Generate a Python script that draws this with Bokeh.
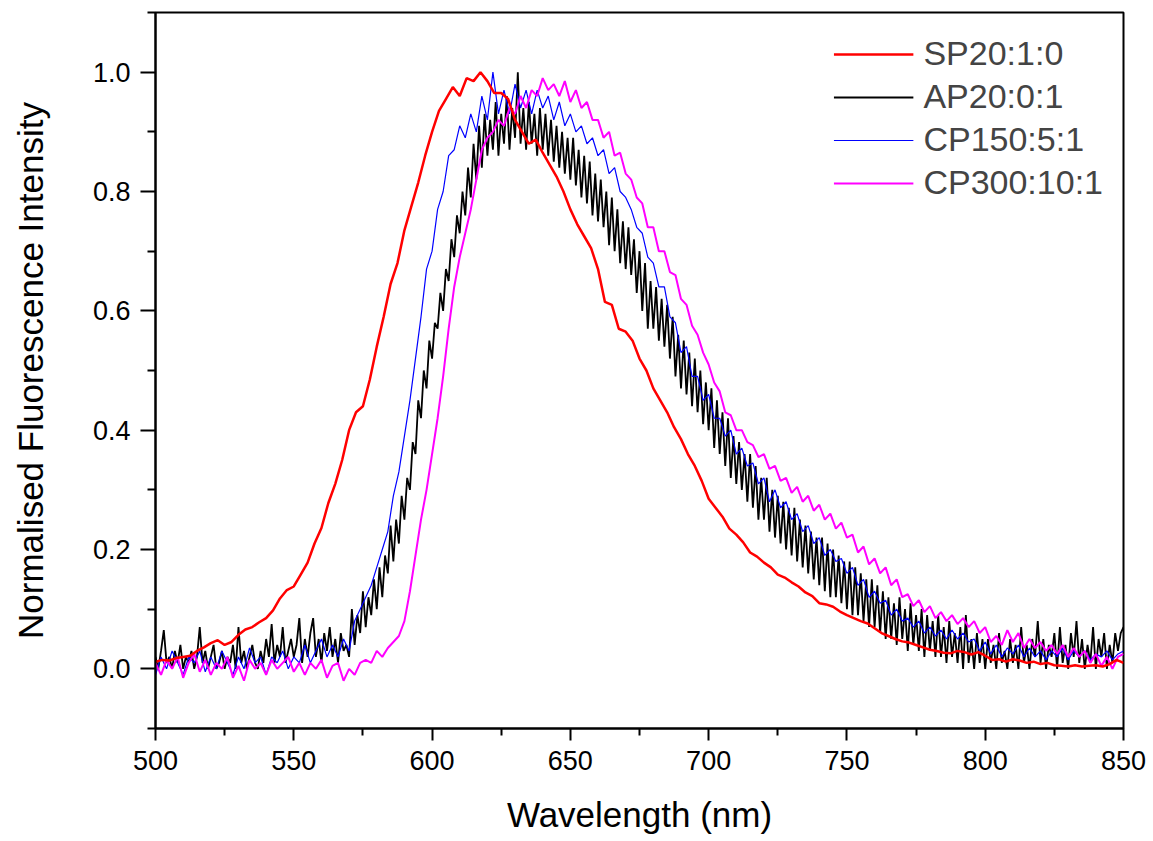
from bokeh.plotting import figure
from bokeh.models import Range1d, FixedTicker, PrintfTickFormatter, Legend, LegendItem
from bokeh.embed import file_html
from bokeh.resources import INLINE

# ---------------- data ----------------
wl_red = [500 + 2.5 * i for i in range(141)]
sp20_1_0 = [
    0.012, 0.015, 0.014, 0.018, 0.02, 0.022, 0.03, 0.036, 0.043, 0.048,
    0.04, 0.045, 0.057, 0.066, 0.07, 0.078, 0.085, 0.098, 0.118, 0.132,
    0.138, 0.158, 0.178, 0.21, 0.236, 0.278, 0.31, 0.35, 0.40, 0.43,
    0.44, 0.485, 0.54, 0.59, 0.645, 0.68, 0.735, 0.775, 0.815, 0.86,
    0.9, 0.935, 0.955, 0.975, 0.96, 0.99, 0.985, 1.0, 0.985, 0.965,
    0.965, 0.955, 0.92, 0.9, 0.88, 0.887, 0.865, 0.845, 0.825, 0.8,
    0.77, 0.745, 0.725, 0.705, 0.67, 0.615, 0.61, 0.57, 0.565, 0.55,
    0.52, 0.5, 0.47, 0.45, 0.43, 0.405, 0.385, 0.36, 0.34, 0.315,
    0.285, 0.27, 0.255, 0.235, 0.225, 0.212, 0.195, 0.188, 0.178, 0.17,
    0.158, 0.153, 0.145, 0.138, 0.128, 0.122, 0.11, 0.108, 0.104, 0.096,
    0.09, 0.085, 0.08, 0.076, 0.068, 0.06, 0.055, 0.05, 0.046, 0.044,
    0.04, 0.036, 0.032, 0.03, 0.027, 0.026, 0.03, 0.028, 0.024, 0.028,
    0.022, 0.015, 0.016, 0.012, 0.016, 0.014, 0.01, 0.012, 0.008, 0.01,
    0.006, 0.005, 0.004, 0.006, 0.004, 0.005, 0.006, 0.004, 0.008, 0.015,
    0.01,
]

wl_black = list(range(500, 851))
ap20_0_1 = [
    0.02, 0.00, 0.03, 0.065, 0.01, 0.02, 0.00, 0.03, 0.01, 0.04,
    0.00, 0.02, 0.01, 0.03, 0.00, 0.02, 0.07, 0.01, 0.03, 0.00,
    0.02, 0.04, 0.00, 0.01, 0.03, 0.00, 0.02, 0.01, 0.04, 0.00,
    0.07, 0.01, 0.03, 0.00, 0.02, 0.04, 0.01, 0.00, 0.03, 0.01,
    0.05, 0.02, 0.075, 0.01, 0.04, 0.02, 0.07, 0.01, 0.03, 0.05,
    0.02, 0.04, 0.085, 0.01, 0.05, 0.02, 0.06, 0.085, 0.02, 0.05,
    0.01, 0.06, 0.03, 0.07, 0.02, 0.05, 0.01, 0.06, 0.03, 0.04,
    0.02, 0.10, 0.04, 0.09, 0.06, 0.13, 0.07, 0.12, 0.09, 0.15,
    0.10, 0.17, 0.12, 0.19, 0.16, 0.24, 0.18, 0.25, 0.21, 0.29,
    0.25, 0.32, 0.30, 0.38, 0.36, 0.45, 0.42, 0.50, 0.47, 0.55,
    0.52, 0.58, 0.57, 0.63, 0.60, 0.67, 0.65, 0.72, 0.69, 0.76,
    0.73, 0.80, 0.76, 0.84, 0.79, 0.88, 0.82, 0.91, 0.84, 0.93,
    0.86, 0.92, 0.87, 0.95, 0.86, 0.93, 0.88, 0.96, 0.87, 0.94,
    0.89, 1.0, 0.88, 0.94, 0.87, 0.95, 0.88, 0.93, 0.86, 0.94,
    0.87, 0.93, 0.86, 0.92, 0.85, 0.91, 0.84, 0.90, 0.83, 0.89,
    0.82, 0.89, 0.81, 0.87, 0.79, 0.86, 0.78, 0.85, 0.76, 0.83,
    0.75, 0.82, 0.74, 0.80, 0.71, 0.79, 0.70, 0.77, 0.68, 0.75,
    0.67, 0.74, 0.66, 0.72, 0.63, 0.70, 0.60, 0.68, 0.57, 0.65,
    0.57, 0.64, 0.55, 0.62, 0.54, 0.61, 0.52, 0.59, 0.49, 0.56,
    0.47, 0.55, 0.46, 0.53, 0.44, 0.52, 0.43, 0.50, 0.41, 0.48,
    0.40, 0.47, 0.37, 0.45, 0.36, 0.43, 0.34, 0.42, 0.32, 0.39,
    0.31, 0.38, 0.30, 0.36, 0.28, 0.36, 0.27, 0.34, 0.25, 0.32,
    0.25, 0.32, 0.23, 0.30, 0.22, 0.29, 0.21, 0.28, 0.20, 0.27,
    0.19, 0.27, 0.18, 0.25, 0.17, 0.24, 0.16, 0.23, 0.15, 0.22,
    0.14, 0.22, 0.13, 0.21, 0.12, 0.20, 0.12, 0.19, 0.11, 0.18,
    0.10, 0.18, 0.09, 0.17, 0.09, 0.16, 0.08, 0.15, 0.07, 0.15,
    0.07, 0.14, 0.06, 0.13, 0.05, 0.12, 0.05, 0.11, 0.04, 0.12,
    0.05, 0.10, 0.03, 0.11, 0.04, 0.09, 0.03, 0.10, 0.02, 0.09,
    0.03, 0.08, 0.02, 0.09, 0.02, 0.07, 0.01, 0.08, 0.02, 0.06,
    0.01, 0.07, 0.00, 0.09, 0.01, 0.05, 0.00, 0.06, 0.01, 0.05,
    0.00, 0.05, 0.01, 0.04, 0.00, 0.06, 0.01, 0.03, 0.00, 0.05,
    0.01, 0.04, 0.00, 0.07, 0.01, 0.04, 0.00, 0.05, 0.02, 0.08,
    0.01, 0.05, 0.00, 0.04, 0.02, 0.06, 0.00, 0.07, 0.01, 0.04,
    0.00, 0.06, 0.02, 0.08, 0.01, 0.05, 0.00, 0.04, 0.01, 0.07,
    0.00, 0.05, 0.02, 0.06, 0.00, 0.04, 0.01, 0.06, 0.03, 0.06,
    0.07,
]

wl = list(range(500, 852, 2))
cp150_5_1 = [
    -0.01, 0.02, 0.00, 0.03, 0.01, -0.01, 0.02, 0.01, 0.03, -0.005,
    0.02, 0.00, 0.03, 0.01, -0.01, 0.02, 0.00, 0.035, 0.01, 0.02,
    -0.01, 0.02, 0.01, 0.03, 0.00, 0.02, 0.01, 0.04, 0.01, 0.03,
    0.05, 0.02, 0.04, 0.02, 0.05, 0.03, 0.08, 0.10, 0.12, 0.14,
    0.17, 0.20, 0.23, 0.29, 0.33, 0.39, 0.45, 0.52, 0.59, 0.67,
    0.70, 0.77, 0.80, 0.86, 0.87, 0.91, 0.89, 0.93, 0.90, 0.96,
    0.92, 1.0, 0.93, 0.97, 0.93, 0.98, 0.94, 0.97, 0.93, 0.97,
    0.94, 0.96, 0.92, 0.95, 0.91, 0.93, 0.90, 0.91, 0.88, 0.89,
    0.86, 0.87, 0.83, 0.84, 0.80, 0.79, 0.77, 0.74, 0.73, 0.69,
    0.68, 0.64, 0.64, 0.59, 0.58, 0.53, 0.54, 0.49, 0.49, 0.45,
    0.46, 0.42, 0.42, 0.39, 0.40, 0.36, 0.37, 0.34, 0.345, 0.31,
    0.32, 0.28, 0.30, 0.27, 0.28, 0.25, 0.26, 0.23, 0.24, 0.21,
    0.22, 0.19, 0.20, 0.18, 0.185, 0.16, 0.17, 0.14, 0.15, 0.12,
    0.13, 0.11, 0.115, 0.09, 0.10, 0.08, 0.085, 0.07, 0.08, 0.06,
    0.07, 0.055, 0.065, 0.05, 0.065, 0.05, 0.06, 0.045, 0.05, 0.03,
    0.045, 0.025, 0.04, 0.02, 0.035, 0.025, 0.04, 0.02, 0.035, 0.02,
    0.03, 0.015, 0.03, 0.02, 0.035, 0.015, 0.03, 0.02, 0.03, 0.015,
    0.025, 0.02, 0.03, 0.015, 0.025, 0.03,
]
cp300_10_1 = [
    0.01, -0.01, 0.015, 0.00, 0.02, -0.015, 0.01, 0.025, -0.005, 0.015,
    -0.01, 0.01, 0.00, 0.02, -0.015, 0.005, -0.02, 0.015, 0.00, 0.01,
    -0.01, 0.015, 0.00, 0.01, 0.02, -0.005, 0.01, -0.01, 0.01, 0.00,
    0.015, -0.015, 0.005, 0.01, -0.02, 0.00, -0.01, 0.01, 0.015, 0.01,
    0.03, 0.02, 0.035, 0.045, 0.055, 0.08, 0.13, 0.19, 0.25, 0.30,
    0.36, 0.42, 0.49, 0.57, 0.64, 0.69, 0.73, 0.77, 0.82, 0.87,
    0.89, 0.90, 0.92, 0.91, 0.94, 0.93, 0.96, 0.94, 0.97, 0.96,
    0.99, 0.97, 0.98, 0.96, 0.985, 0.95, 0.97, 0.94, 0.95, 0.92,
    0.92, 0.89, 0.90, 0.86, 0.865, 0.83, 0.82, 0.79, 0.78, 0.74,
    0.74, 0.70, 0.70, 0.665, 0.66, 0.62, 0.61, 0.575, 0.56, 0.53,
    0.51, 0.48, 0.465, 0.43, 0.425, 0.40, 0.40, 0.38, 0.375, 0.355,
    0.36, 0.335, 0.34, 0.315, 0.32, 0.295, 0.305, 0.28, 0.29, 0.265,
    0.275, 0.25, 0.26, 0.235, 0.245, 0.22, 0.225, 0.195, 0.205, 0.175,
    0.185, 0.16, 0.17, 0.14, 0.15, 0.12, 0.125, 0.105, 0.115, 0.095,
    0.105, 0.085, 0.095, 0.08, 0.09, 0.075, 0.085, 0.07, 0.08, 0.06,
    0.07, 0.045, 0.055, 0.04, 0.065, 0.045, 0.06, 0.035, 0.05, 0.035,
    0.045, 0.03, 0.04, 0.025, 0.04, 0.02, 0.035, 0.02, 0.03, 0.01,
    0.025, 0.005, 0.02, 0.00, 0.02, 0.025,
]

series_names = ["SP20:1:0", "AP20:0:1", "CP150:5:1", "CP300:10:1"]
x_ticks = [500, 550, 600, 650, 700, 750, 800, 850]
x_minor = [525, 575, 625, 675, 725, 775, 825]
y_ticks = [0.0, 0.2, 0.4, 0.6, 0.8, 1.0]
y_minor = [-0.1, 0.1, 0.3, 0.5, 0.7, 0.9, 1.1]

FONT = "Liberation Sans"

p = figure(width=1153, height=841, output_backend="svg", toolbar_location=None,
           x_range=Range1d(500, 850), y_range=Range1d(-0.1, 1.1),
           min_border_left=155, min_border_right=30, min_border_top=12, min_border_bottom=113)
p.background_fill_color = "white"
p.border_fill_color = "white"
p.xgrid.visible = False
p.ygrid.visible = False
p.outline_line_color = "black"
p.outline_line_width = 2

r_black = p.line(wl_black, ap20_0_1, line_color="#000000", line_width=1.8)
r_blue = p.line(wl, cp150_5_1, line_color="#0000ff", line_width=1.2)
r_mag = p.line(wl, cp300_10_1, line_color="#ff00ff", line_width=2)
r_red = p.line(wl_red, sp20_1_0, line_color="#ff0000", line_width=2.5)

# axes
xa = p.xaxis[0]
xa.ticker = FixedTicker(ticks=x_ticks, minor_ticks=x_minor)
xa.axis_label = "Wavelength (nm)"
xa.major_tick_out = 12
xa.major_tick_in = 0
xa.minor_tick_out = 7
xa.minor_tick_in = 0
xa.major_label_standoff = 10
xa.axis_label_standoff = 22

ya = p.yaxis[0]
ya.ticker = FixedTicker(ticks=y_ticks, minor_ticks=y_minor)
ya.formatter = PrintfTickFormatter(format="%.1f")
ya.axis_label = "Normalised Fluorescence Intensity"
ya.major_tick_out = 15
ya.major_tick_in = 0
ya.minor_tick_out = 8
ya.minor_tick_in = 0
ya.major_label_standoff = 10
ya.axis_label_standoff = 40

for ax in (xa, ya):
    ax.axis_line_width = 2
    ax.axis_line_color = "black"
    ax.major_tick_line_width = 2
    ax.minor_tick_line_width = 2
    ax.major_tick_line_color = "black"
    ax.minor_tick_line_color = "black"
    ax.major_label_text_font = FONT
    ax.major_label_text_font_size = "27px"
    ax.major_label_text_color = "black"
    ax.axis_label_text_font = FONT
    ax.axis_label_text_font_size = "35px"
    ax.axis_label_text_font_style = "normal"
    ax.axis_label_text_color = "black"

legend = Legend(items=[
    LegendItem(label=series_names[0], renderers=[r_red]),
    LegendItem(label=series_names[1], renderers=[r_black]),
    LegendItem(label=series_names[2], renderers=[r_blue]),
    LegendItem(label=series_names[3], renderers=[r_mag]),
], location="top_right")
legend.border_line_color = None
legend.background_fill_alpha = 0
legend.label_text_font = FONT
legend.label_text_font_size = "34px"
legend.glyph_width = 80
legend.glyph_height = 20
legend.label_height = 43
legend.spacing = 0
legend.label_standoff = 10
legend.padding = 0
legend.margin = 20
p.add_layout(legend)

open("out.html", "w").write(file_html(p, INLINE))
